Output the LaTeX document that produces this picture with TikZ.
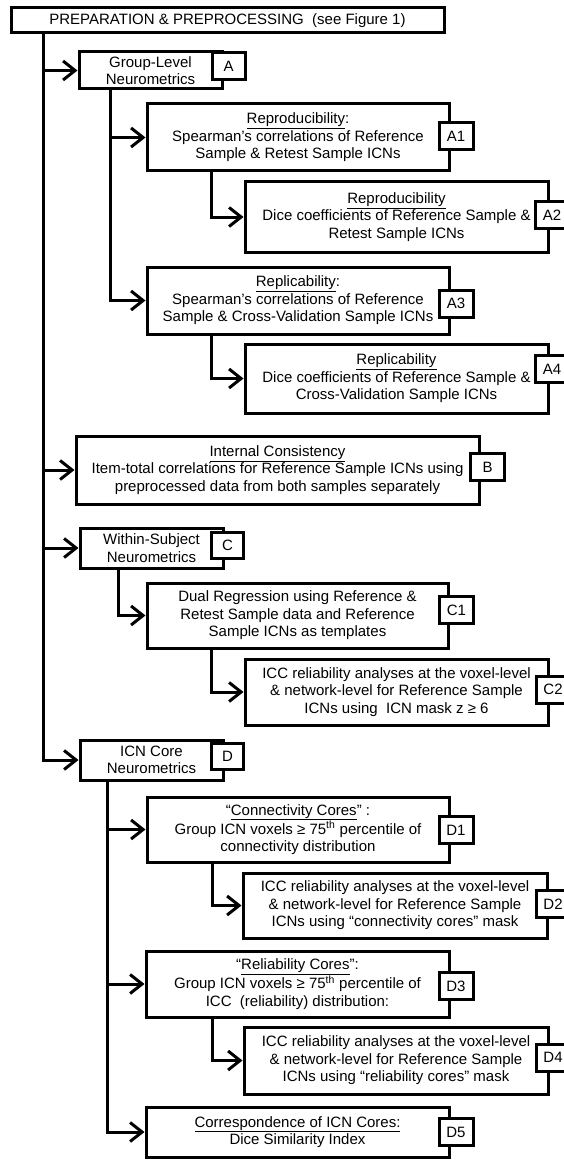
\documentclass[tikz,border=0pt]{standalone}
\usepackage{fontspec}
\setmainfont{Liberation Sans}
\usepackage{tikz}
\usetikzlibrary{arrows.meta}
\tikzset{
  box/.style={draw, line width=3pt, fill=white, align=center, inner sep=0pt,
    font=\fontsize{15}{17.5}\selectfont},
  tagbox/.style={draw, line width=3pt, fill=white, inner sep=0pt,
    minimum width=34pt, minimum height=27pt, font=\fontsize{15}{17.5}\selectfont},
  arr/.style={line width=3pt, -{Straight Barb[length=12pt,width=19pt]}},
}
\begin{document}
\begin{tikzpicture}[x=1pt,y=-1pt]

          \useasboundingbox (0,0) rectangle (563,1161); %全体

          \node[box, minimum width=433pt, minimum height=25pt] (prep) at (227.5,20.5)
            {PREPARATION \& PREPROCESSING\ \ (see Figure 1)}; %前処理

          % A 群
          \node[box, minimum width=143pt, minimum height=37pt] (grpA) at (150.5,70.5) {Group-Level\\Neurometrics};
          \node[tagbox, minimum width=33pt, minimum height=27pt] (tA) at (228.5,66.5) {A};
          \node[box, minimum width=302pt, minimum height=67pt] (A1) at (298,137.5)
            {\underline{Reproducibility}:\\Spearman’s correlations of Reference\\Sample \& Retest Sample ICNs};
          \node[tagbox] (tA1) at (456,136) {A1};
          \node[box, minimum width=303pt, minimum height=70pt] (A2) at (396.5,217)
            {\underline{Reproducibility}\\Dice coefficients of Reference Sample \&\\Retest Sample ICNs};
          \node[tagbox] (tA2) at (552,215) {A2};
          \node[box, minimum width=302pt, minimum height=67pt] (A3) at (298,300.5)
            {\underline{Replicability}:\\Spearman’s correlations of Reference\\Sample \& Cross-Validation Sample ICNs};
          \node[tagbox] (tA3) at (456,303.5) {A3};
          \node[box, minimum width=303pt, minimum height=69pt] (A4) at (396.5,378.5)
            {\underline{Replicability}\\Dice coefficients of Reference Sample \&\\Cross-Validation Sample ICNs};
          \node[tagbox] (tA4) at (552,369) {A4};

          % B
          \node[box, minimum width=403pt, minimum height=68pt] (B) at (277.5,470)
            {\underline{Internal Consistency}\\Item-total correlations for Reference Sample ICNs using\\preprocessed data from both samples separately};
          \node[tagbox] (tB) at (487.5,467) {B};

          % C 群
          \node[box, minimum width=143pt, minimum height=40pt] (grpC) at (151.5,548) {Within-Subject\\Neurometrics};
          \node[tagbox, minimum width=32pt, minimum height=26pt] (tC) at (227.5,545) {C};
          \node[box, minimum width=301pt, minimum height=65pt] (C1) at (297.5,615.5)
            {Dual Regression using Reference \&\\Retest Sample data and Reference\\Sample ICNs as templates};
          \node[tagbox] (tC1) at (456.5,610) {C1};
          \node[box, minimum width=303pt, minimum height=66pt] (C2) at (396.5,692)
            {ICC reliability analyses at the voxel-level\\\& network-level for Reference Sample\\ICNs using\ \ ICN mask z ≥ 6};
          \node[tagbox] (tC2) at (553,689.5) {C2};

          % D 群
          \node[box, minimum width=143pt, minimum height=40pt] (grpD) at (151.5,760) {ICN Core\\Neurometrics};
          \node[tagbox, minimum width=32pt, minimum height=26pt] (tD) at (227.5,756) {D};
          \node[box, minimum width=302pt, minimum height=65pt] (D1) at (298,829.5)
            {“\underline{Connectivity Cores}” :\\Group ICN voxels ≥ 75\textsuperscript{th} percentile of\\connectivity distribution};
          \node[tagbox] (tD1) at (456,830) {D1};
          \node[box, minimum width=304pt, minimum height=65pt] (D2) at (395,905.5)
            {ICC reliability analyses at the voxel-level\\\& network-level for Reference Sample\\ICNs using “connectivity cores” mask};
          \node[tagbox] (tD2) at (553,904) {D2};
          \node[box, minimum width=303pt, minimum height=66pt] (D3) at (297.5,984)
            {“\underline{Reliability Cores}”:\\Group ICN voxels ≥ 75\textsuperscript{th} percentile of\\ICC\ \ (reliability) distribution:};
          \node[tagbox] (tD3) at (456,986) {D3};
          \node[box, minimum width=304pt, minimum height=67pt] (D4) at (396,1060.5)
            {ICC reliability analyses at the voxel-level\\\& network-level for Reference Sample\\ICNs using “reliability cores” mask};
          \node[tagbox] (tD4) at (553,1057.5) {D4};
          \node[box, minimum width=303pt, minimum height=50pt] (D5) at (297.5,1132)
            {\underline{Correspondence of ICN Cores:}\\Dice Similarity Index};
          \node[tagbox] (tD5) at (456,1132) {D5};

          \coordinate (T) at (43,0); %幹
          \coordinate (TA) at (110,0); %A 枝
          \coordinate (TA1) at (211,0);
          \coordinate (TC) at (118,0); %C 枝
          \coordinate (TC1) at (211,0);
          \coordinate (TD) at (107,0); %D 枝
          \coordinate (TD1) at (212,0);

          \draw[arr] (T |- prep.south) |- (grpA.west);
          \draw[arr] (T |- prep.south) |- (B.west);
          \draw[arr] (T |- prep.south) |- (grpC.west);
          \draw[arr] (T |- prep.south) |- (grpD.west);

          \draw[arr] (TA |- grpA.south) |- (A1.west);
          \draw[arr] (TA |- grpA.south) |- (A3.west);
          \draw[arr] (TA1 |- A1.south) |- (A2.west);
          \draw[arr] (TA1 |- A3.south) |- (A4.west);

          \draw[arr] (TC |- grpC.south) |- (C1.west);
          \draw[arr] (TC1 |- C1.south) |- (C2.west);

          \draw[arr] (TD |- grpD.south) |- (D1.west);
          \draw[arr] (TD |- grpD.south) |- (D3.west);
          \draw[arr] (TD |- grpD.south) |- (D5.west);
          \draw[arr] (TD1 |- D1.south) |- (D2.west);
          \draw[arr] (TD1 |- D3.south) |- (D4.west);

        \end{tikzpicture}
\end{document}
